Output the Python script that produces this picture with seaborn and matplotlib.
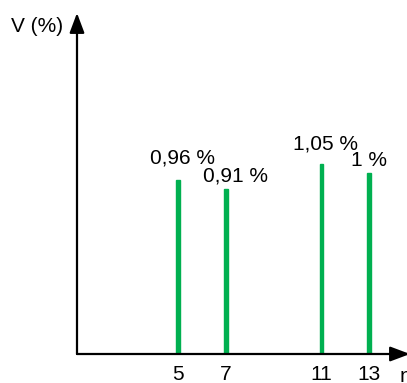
import numpy as np
import pandas as pd
import seaborn as sns
import matplotlib.pyplot as plt

# harmonic ranks and their voltage levels
rank = [5, 7, 11, 13]
volt = [0.96, 0.91, 1.05, 1.0]
labels = ["0,96 %", "0,91 %", "1,05 %", "1 %"]

df = pd.DataFrame({"n": rank, "V": volt})

sns.set_style("white")
plt.rcParams["font.family"] = ["Liberation Sans", "DejaVu Sans"]
plt.rcParams["text.color"] = "black"
plt.rcParams["xtick.color"] = "black"

fig = plt.figure(figsize=(4.07, 3.83), dpi=100)
ax = fig.add_axes([77/407, 29/383, 333/407, 341/383])

sns.barplot(data=df, x="n", y="V", native_scale=True, width=0.08,
            color="#00B050", saturation=1, edgecolor="#00B050",
            linewidth=1.0, ax=ax)

ax.set_xlim(0.75, 14.71)
ax.set_ylim(0, 1.88)

# label offsets (points) so the close labels don't collide
offs = [(3, 12), (7, 5), (3, 10), (0, 5)]
for (x, y, t), o in zip(zip(rank, volt, labels), offs):
    ax.annotate(t, (x, y), xytext=o, textcoords="offset points",
                ha="center", va="baseline", fontsize=15)

ax.set_xticks(rank)
ax.set_xticklabels([str(r) for r in rank], fontsize=15)
ax.tick_params(axis="x", length=0, pad=8)
ax.set_yticks([])
ax.set_xlabel("")
ax.set_ylabel("")
for s in ax.spines.values():
    s.set_visible(False)

# axes drawn as arrows
arr = dict(arrowstyle="-|>,head_length=1.2,head_width=0.45",
           color="black", lw=1.6, shrinkA=0, shrinkB=0)
ax.annotate("", xy=(0, 1), xytext=(0, 0), xycoords="axes fraction", arrowprops=arr)
ax.annotate("", xy=(1, 0), xytext=(0, 0), xycoords="axes fraction", arrowprops=arr)

fig.text(63/407, 1 - 26/383, "V (%)", ha="right", va="center", fontsize=15)
fig.text(400/407, 1 - 376/383, "n", ha="left", va="center", fontsize=15)

fig.savefig("out.png", dpi=100)
